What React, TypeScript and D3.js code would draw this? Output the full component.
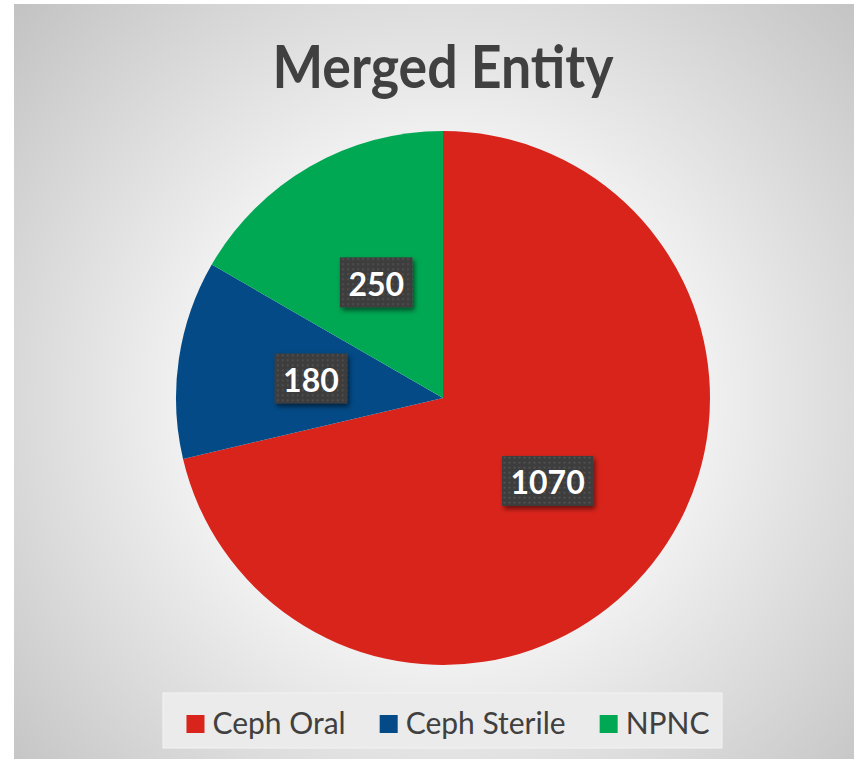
import { useMemo } from 'react'
import * as d3 from 'd3'

const W = 854
const H = 759

const categories = ['Ceph Oral', 'Ceph Sterile', 'NPNC']
const values = [1070, 180, 250]
const colors = ['#d9241b', '#034a86', '#00a853']
const title = 'Merged Entity'

const PIE = { cx: 443, cy: 398, r: 267 }
const FONT = 'Lato, "Open Sans", sans-serif'

let ctx: CanvasRenderingContext2D | null = null
const measure = (text: string, font: string) => {
  if (!ctx) ctx = document.createElement('canvas').getContext('2d')
  if (!ctx) return text.length * 10
  ctx.font = font
  return ctx.measureText(text).width
}

export default function App() {
  const slices = useMemo(() => {
    const pie = d3.pie<number>().sort(null).value(d => d)
    return pie(values)
  }, [])

  const arc = d3.arc<d3.PieArcDatum<number>>().innerRadius(0).outerRadius(PIE.r)

  // legend layout, centred under the pie
  const legendFont = `400 30px ${FONT}`
  const sw = 18
  const gapSwatch = 8
  const gapItem = 34
  const widths = categories.map(c => sw + gapSwatch + measure(c, legendFont))
  const total = d3.sum(widths) + gapItem * (categories.length - 1)
  let lx = 448 - total / 2
  const legendItems = categories.map((c, i) => {
    const item = { name: c, x: lx, color: colors[i] }
    lx += widths[i] + gapItem
    return item
  })

  const labelFont = `700 32px ${FONT}`

  return (
    <svg width={W} height={H} style={{ position: 'absolute', left: 0, top: 0 }}>
      <defs>
        <radialGradient id="bg" gradientUnits="userSpaceOnUse" cx={443} cy={400} r={600}>
          <stop offset="0" stopColor="#ffffff" />
          <stop offset="0.42" stopColor="#f2f2f2" />
          <stop offset="0.58" stopColor="#e4e4e4" />
          <stop offset="1" stopColor="#c0c0c0" />
        </radialGradient>
        <pattern id="dots" width={5} height={5} patternUnits="userSpaceOnUse">
          <rect width={5} height={5} fill="#3e3e3e" />
          <rect x={1} y={1} width={1.5} height={1.5} fill="#575757" />
        </pattern>
        <filter id="shadow" x="-30%" y="-30%" width="160%" height="170%">
          <feDropShadow dx={2} dy={3} stdDeviation={2.5} floodColor="#000" floodOpacity={0.55} />
        </filter>
      </defs>

      <rect x={0} y={0} width={W} height={H} fill="#ffffff" />
      <rect x={14} y={4} width={W - 14} height={H - 4} fill="url(#bg)" />

      <text
        x={443}
        y={88}
        textAnchor="middle"
        fontFamily={FONT}
        fontWeight={700}
        fontSize={59}
        fill="#404040"
        textLength={341}
        lengthAdjust="spacingAndGlyphs"
      >
        {title}
      </text>

      <g transform={`translate(${PIE.cx},${PIE.cy})`}>
        {slices.map((s, i) => (
          <path key={categories[i]} d={arc(s) || ''} fill={colors[i]} />
        ))}
        {slices.map((s, i) => {
          const [x, y] = arc.centroid(s)
          const label = String(values[i])
          const tw = measure(label, labelFont)
          const bw = tw + 17
          const bh = 50
          return (
            <g key={`l-${i}`} transform={`translate(${x},${y})`}>
              <rect
                x={-bw / 2}
                y={-bh / 2}
                width={bw}
                height={bh}
                fill="url(#dots)"
                filter="url(#shadow)"
              />
              <text
                x={0}
                y={1}
                textAnchor="middle"
                dominantBaseline="central"
                fontFamily={FONT}
                fontWeight={700}
                fontSize={32}
                fill="#ffffff"
              >
                {label}
              </text>
            </g>
          )
        })}
      </g>

      {/* legend */}
      <rect x={163} y={693} width={559} height={55} fill="#ebebeb" stroke="#f3f3f3" strokeWidth={1} />
      {legendItems.map(d => (
        <g key={d.name}>
          <rect x={d.x} y={715} width={sw} height={sw} fill={d.color} />
          <text
            x={d.x + sw + gapSwatch}
            y={734}
            fontFamily={FONT}
            fontSize={30}
            fill="#404040"
          >
            {d.name}
          </text>
        </g>
      ))}
    </svg>
  )
}
